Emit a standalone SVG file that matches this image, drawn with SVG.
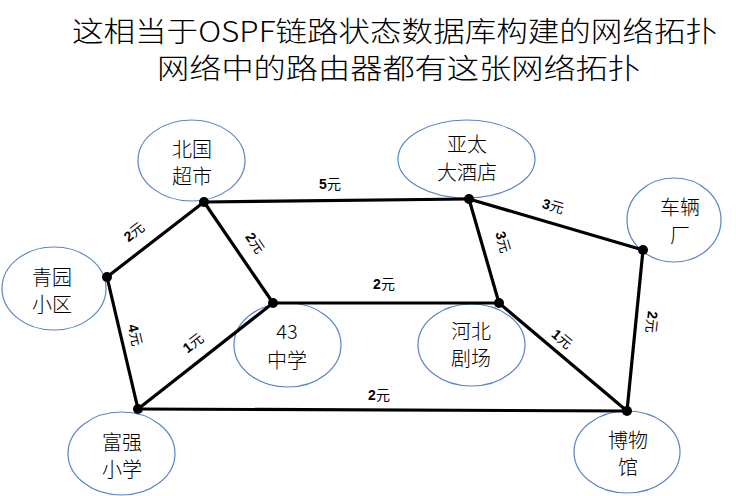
<svg xmlns="http://www.w3.org/2000/svg" width="736" height="496" viewBox="0 0 736 496">
<style>
.title{font-family:"Noto Sans CJK SC","Liberation Sans",sans-serif;font-size:28px;font-weight:300;fill:#000}
.node ellipse{fill:#fff;stroke:#5B85C4;stroke-width:1.2}
.node text{font-family:"Noto Sans CJK SC","Liberation Sans",sans-serif;font-size:20px;font-weight:300;fill:#000;text-anchor:middle}
.edge line{stroke:#000;stroke-width:3.2}
.dot{fill:#000}
.lbl{font-family:"Liberation Sans","Noto Sans CJK SC",sans-serif;font-size:14px;fill:#000;text-anchor:middle;dominant-baseline:central}
.b{font-weight:bold}
</style>
<rect width="736" height="496" fill="#fff"/>
<text class="title" x="72" y="42" textLength="645" lengthAdjust="spacingAndGlyphs">这相当于OSPF链路状态数据库构建的网络拓扑</text>
<text class="title" x="157" y="79" textLength="483" lengthAdjust="spacingAndGlyphs">网络中的路由器都有这张网络拓扑</text>

<g id="n-beiguo" class="node"><ellipse cx="191.5" cy="160.5" rx="53.5" ry="40.5"/><text x="192" y="157">北国</text><text x="192" y="184">超市</text></g>
<g id="n-yatai" class="node"><ellipse cx="466.5" cy="159" rx="68.5" ry="39"/><text x="467" y="152">亚太</text><text x="467" y="180">大酒店</text></g>
<g id="n-cheliang" class="node"><ellipse cx="674" cy="220" rx="47" ry="42"/><text x="680" y="215">车辆</text><text x="680" y="243">厂</text></g>
<g id="n-qingyuan" class="node"><ellipse cx="54" cy="288.5" rx="52" ry="41.5"/><text x="52" y="285">青园</text><text x="52" y="312">小区</text></g>
<g id="n-43" class="node"><ellipse cx="287.5" cy="345" rx="53.5" ry="42"/><text x="287" y="339">43</text><text x="287" y="368">中学</text></g>
<g id="n-hebei" class="node"><ellipse cx="471.5" cy="345" rx="53.5" ry="41"/><text x="471" y="339">河北</text><text x="471" y="366">剧场</text></g>
<g id="n-fuqiang" class="node"><ellipse cx="121.5" cy="453.5" rx="53.5" ry="41.5"/><text x="122" y="450">富强</text><text x="122" y="477">小学</text></g>
<g id="n-bowu" class="node"><ellipse cx="627" cy="452" rx="53" ry="41"/><text x="628" y="448">博物</text><text x="628" y="475">馆</text></g>

<g id="connectors" class="edge">
<line x1="204" y1="202" x2="469" y2="199"/>
<line x1="204" y1="202" x2="107" y2="277"/>
<line x1="204" y1="202" x2="273" y2="303"/>
<line x1="107" y1="277" x2="138" y2="409"/>
<line x1="138" y1="409" x2="273" y2="303"/>
<line x1="273" y1="303" x2="499" y2="303"/>
<line x1="469" y1="199" x2="499" y2="303"/>
<line x1="469" y1="199" x2="643" y2="250"/>
<line x1="643" y1="250" x2="627" y2="411"/>
<line x1="499" y1="303" x2="627" y2="411"/>
<line x1="138" y1="409" x2="627" y2="411"/>
<circle class="dot" cx="204" cy="202" r="5"/>
<circle class="dot" cx="469" cy="199" r="5"/>
<circle class="dot" cx="643" cy="250" r="5"/>
<circle class="dot" cx="107" cy="277" r="5"/>
<circle class="dot" cx="273" cy="303" r="5"/>
<circle class="dot" cx="499" cy="303" r="5"/>
<circle class="dot" cx="138" cy="409" r="5"/>
<circle class="dot" cx="627" cy="411" r="5"/>
<text class="lbl" transform="translate(330,184)"><tspan class="b">5</tspan>元</text>
<text class="lbl" transform="translate(134,232) rotate(-37.7)"><tspan class="b">2</tspan>元</text>
<text class="lbl" transform="translate(255,243) rotate(55.7)"><tspan class="b">2</tspan>元</text>
<text class="lbl" transform="translate(135,335) rotate(76.8)"><tspan class="b">4</tspan>元</text>
<text class="lbl" transform="translate(193,343) rotate(-38)"><tspan class="b">1</tspan>元</text>
<text class="lbl" transform="translate(384,284)"><tspan class="b">2</tspan>元</text>
<text class="lbl" transform="translate(503,242) rotate(74)"><tspan class="b">3</tspan>元</text>
<text class="lbl" transform="translate(553,206) rotate(16.3)"><tspan class="b">3</tspan>元</text>
<text class="lbl" transform="translate(652,322) rotate(95.7)"><tspan class="b">2</tspan>元</text>
<text class="lbl" transform="translate(562,339) rotate(40)"><tspan class="b">1</tspan>元</text>
<text class="lbl" transform="translate(379,395)"><tspan class="b">2</tspan>元</text>
</g>
</svg>
